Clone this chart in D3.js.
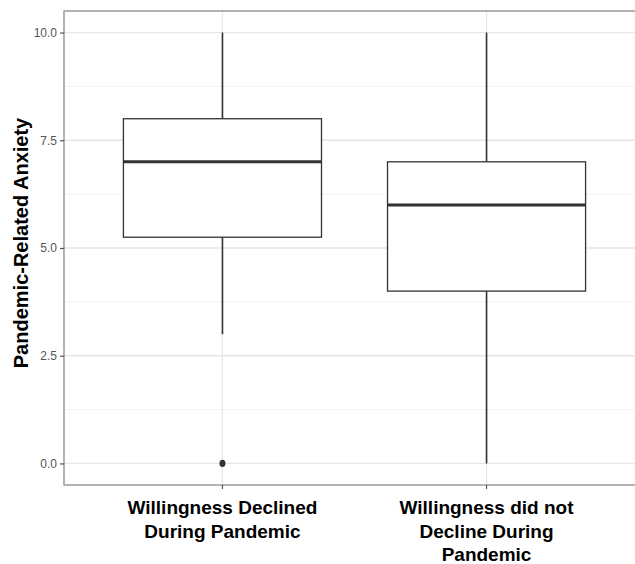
<!DOCTYPE html>
<html>
<head>
<meta charset="utf-8">
<script src="https://cdn.jsdelivr.net/npm/d3@7"></script>
<style>
  body { margin: 0; background: #fff; }
  .tick text { font-family: "Liberation Sans", Arial, sans-serif; }
</style>
</head>
<body>
<div id="chart"></div>
<script>
// box summaries
const categories = ['Willingness Declined During Pandemic', 'Willingness did not Decline During Pandemic'];
const labelLines = [['Willingness Declined', 'During Pandemic'], ['Willingness did not', 'Decline During', 'Pandemic']];
const whiskerLow = [3, 0];
const q1 = [5.25, 4];
const median = [7, 6];
const q3 = [8, 7];
const whiskerHigh = [10, 10];
const outliers = [[0], []];
const yTicks = [0, 2.5, 5, 7.5, 10];
const yMinor = [1.25, 3.75, 6.25, 8.75];

const W = 635, H = 564;
const margin = { top: 11, left: 64 };
const panelW = 581, panelH = 474;

const svg = d3.select('#chart').append('svg')
  .attr('width', W).attr('height', H);

const g = svg.append('g').attr('transform', `translate(${margin.left},${margin.top})`);

const x = d3.scaleBand().domain(categories).range([0, panelW]).paddingOuter(0.1).paddingInner(0);
const y = d3.scaleLinear().domain([-0.5, 10.5]).range([panelH, 0]);
const cx = c => x(c) + x.bandwidth() / 2;
const boxW = x.bandwidth() * 0.75;

// grid
g.selectAll('.minor').data(yMinor).enter().append('line')
  .attr('x1', 0).attr('x2', panelW)
  .attr('y1', d => y(d)).attr('y2', d => y(d))
  .attr('stroke', '#f2f2f2').attr('stroke-width', 1);
g.selectAll('.major').data(yTicks).enter().append('line')
  .attr('x1', 0).attr('x2', panelW)
  .attr('y1', d => y(d)).attr('y2', d => y(d))
  .attr('stroke', '#e6e6e6').attr('stroke-width', 1.3);
g.selectAll('.vmajor').data(categories).enter().append('line')
  .attr('x1', d => cx(d)).attr('x2', d => cx(d))
  .attr('y1', 0).attr('y2', panelH)
  .attr('stroke', '#e6e6e6').attr('stroke-width', 1.3);

// boxes
categories.forEach((c, i) => {
  const xc = cx(c);
  g.append('line').attr('x1', xc).attr('x2', xc)
    .attr('y1', y(whiskerHigh[i])).attr('y2', y(q3[i]))
    .attr('stroke', '#333').attr('stroke-width', 1.6);
  g.append('line').attr('x1', xc).attr('x2', xc)
    .attr('y1', y(q1[i])).attr('y2', y(whiskerLow[i]))
    .attr('stroke', '#333').attr('stroke-width', 1.6);
  g.append('rect')
    .attr('x', xc - boxW / 2).attr('width', boxW)
    .attr('y', y(q3[i])).attr('height', y(q1[i]) - y(q3[i]))
    .attr('fill', '#fff').attr('stroke', '#333').attr('stroke-width', 1.3);
  g.append('line').attr('x1', xc - boxW / 2).attr('x2', xc + boxW / 2)
    .attr('y1', y(median[i])).attr('y2', y(median[i]))
    .attr('stroke', '#333').attr('stroke-width', 3);
  g.selectAll(null).data(outliers[i]).enter().append('ellipse')
    .attr('cx', xc).attr('cy', d => y(d))
    .attr('rx', 3).attr('ry', 3.6)
    .attr('fill', '#333');
});

// panel border
g.append('rect').attr('x', 0).attr('y', 0).attr('width', panelW).attr('height', panelH)
  .attr('fill', 'none').attr('stroke', '#8a8a8a').attr('stroke-width', 1.3);

// y axis
const yAxis = g.append('g')
  .call(d3.axisLeft(y).tickValues(yTicks).tickFormat(d3.format('.1f')).tickSize(4).tickPadding(3));
yAxis.select('.domain').remove();
yAxis.selectAll('.tick line').attr('stroke', '#555').attr('stroke-width', 1.2);
yAxis.selectAll('.tick text').attr('fill', '#555').style('font-size', '12px');

// x axis ticks
const xAxis = g.append('g').attr('transform', `translate(0,${panelH})`)
  .call(d3.axisBottom(x).tickSize(4).tickFormat(''));
xAxis.select('.domain').remove();
xAxis.selectAll('.tick line').attr('stroke', '#555').attr('stroke-width', 1.2);

// x labels
categories.forEach((c, i) => {
  const t = g.append('text')
    .attr('x', cx(c)).attr('y', panelH + 29)
    .attr('text-anchor', 'middle')
    .style('font-family', '"Liberation Sans", Arial, sans-serif')
    .style('font-weight', 'bold').style('font-size', '19px').attr('fill', '#000');
  labelLines[i].forEach((l, j) => {
    t.append('tspan').attr('x', cx(c)).attr('dy', j === 0 ? 0 : 23.5).text(l);
  });
});

// y title
svg.append('text')
  .attr('transform', `translate(28,243) rotate(-90)`)
  .attr('text-anchor', 'middle')
  .style('font-family', '"Liberation Sans", Arial, sans-serif')
  .style('font-weight', 'bold').style('font-size', '20px').attr('fill', '#000')
  .text('Pandemic-Related Anxiety');
</script>
</body>
</html>
